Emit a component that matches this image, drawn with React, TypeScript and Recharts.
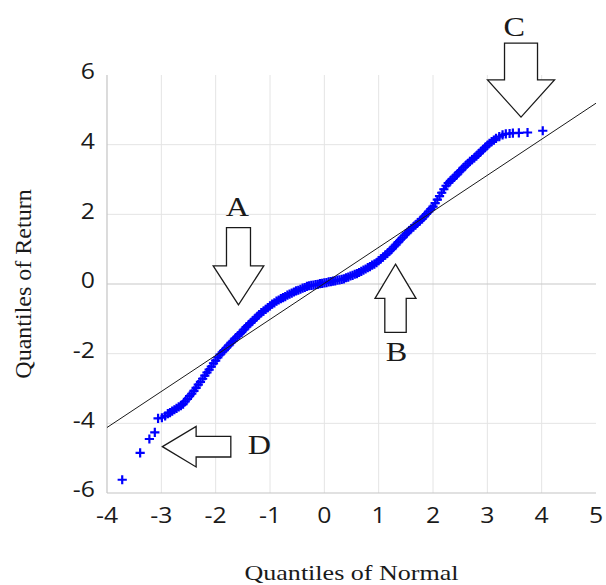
import React from 'react';
import { ScatterChart, Scatter, XAxis, YAxis, CartesianGrid, ReferenceLine, ReferenceDot } from 'recharts';

// Quantiles of Normal (x) and Quantiles of Return (y)
const normalQuantiles = [
  -3.72, -3.39, -3.22, -3.12, -3.06, -2.99, -2.93, -2.88, -2.84, -2.80,
  -2.76, -2.72, -2.68, -2.64, -2.60, -2.56, -2.52, -2.48, -2.44, -2.40,
  -2.36, -2.32, -2.28, -2.24, -2.20, -2.16, -2.12, -2.08, -2.04, -2.00,
  -1.96, -1.92, -1.88, -1.84, -1.80, -1.76, -1.72, -1.68, -1.64, -1.60,
  -1.56, -1.52, -1.48, -1.44, -1.40, -1.36, -1.32, -1.28, -1.24, -1.20,
  -1.16, -1.12, -1.08, -1.04, -1.00, -0.96, -0.92, -0.88, -0.84, -0.80,
  -0.76, -0.72, -0.68, -0.64, -0.60, -0.56, -0.52, -0.48, -0.44, -0.40,
  -0.36, -0.32, -0.28, -0.24, -0.20, -0.16, -0.12, -0.08, -0.04, 0.00,
  0.04, 0.08, 0.12, 0.16, 0.20, 0.24, 0.28, 0.32, 0.36, 0.40,
  0.44, 0.48, 0.52, 0.56, 0.60, 0.64, 0.68, 0.72, 0.76, 0.80,
  0.84, 0.88, 0.92, 0.96, 1.00, 1.04, 1.08, 1.12, 1.16, 1.20,
  1.24, 1.28, 1.32, 1.36, 1.40, 1.44, 1.48, 1.52, 1.56, 1.60,
  1.64, 1.68, 1.72, 1.76, 1.80, 1.84, 1.88, 1.92, 1.96, 2.00,
  2.04, 2.08, 2.12, 2.16, 2.20, 2.24, 2.28, 2.32, 2.36, 2.40,
  2.44, 2.48, 2.52, 2.56, 2.60, 2.64, 2.68, 2.72, 2.76, 2.80,
  2.84, 2.88, 2.92, 2.96, 3.00, 3.04, 3.08, 3.12, 3.16, 3.22,
  3.28, 3.34, 3.41, 3.47, 3.58, 3.74, 4.02,
];

const returnQuantiles = [
  -5.62, -4.85, -4.45, -4.26, -3.86, -3.84, -3.79, -3.72, -3.69, -3.65,
  -3.61, -3.57, -3.53, -3.49, -3.45, -3.37, -3.30, -3.22, -3.15, -3.07,
  -2.98, -2.89, -2.81, -2.72, -2.63, -2.54, -2.46, -2.37, -2.28, -2.20,
  -2.11, -2.03, -1.96, -1.90, -1.83, -1.76, -1.69, -1.63, -1.56, -1.50,
  -1.44, -1.38, -1.31, -1.24, -1.18, -1.12, -1.06, -1.00, -0.94, -0.88,
  -0.82, -0.78, -0.73, -0.68, -0.63, -0.58, -0.54, -0.49, -0.46, -0.42,
  -0.39, -0.36, -0.32, -0.29, -0.26, -0.23, -0.20, -0.18, -0.15, -0.12,
  -0.10, -0.07, -0.05, -0.04, -0.03, -0.02, -0.01, 0.01, 0.02, 0.03,
  0.04, 0.06, 0.07, 0.08, 0.09, 0.11, 0.12, 0.13, 0.15, 0.18,
  0.20, 0.23, 0.25, 0.28, 0.30, 0.33, 0.36, 0.40, 0.43, 0.47,
  0.50, 0.54, 0.57, 0.61, 0.67, 0.72, 0.77, 0.83, 0.88, 0.94,
  1.00, 1.07, 1.13, 1.20, 1.27, 1.33, 1.40, 1.46, 1.53, 1.59,
  1.64, 1.70, 1.76, 1.81, 1.87, 1.94, 2.01, 2.08, 2.15, 2.22,
  2.32, 2.42, 2.52, 2.62, 2.72, 2.82, 2.90, 2.96, 3.02, 3.08,
  3.14, 3.21, 3.27, 3.34, 3.40, 3.46, 3.52, 3.57, 3.62, 3.68,
  3.74, 3.80, 3.86, 3.92, 3.98, 4.04, 4.09, 4.13, 4.18, 4.23,
  4.28, 4.31, 4.32, 4.33, 4.34, 4.35, 4.40,
];

// Reference (fitted) line end points
const fitX = [-4, 5];
const fitY = [-4.12, 5.19];

// Axis ticks
const xTicks = [-4, -3, -2, -1, 0, 1, 2, 3, 4, 5];
const yTicks = [-6, -4, -2, 0, 2, 4, 6];
const xGridValues = [-3, -2, -1, 0, 1, 2, 3, 4];
const yGridValues = [-4, -2, 2, 4];

// Annotation arrows: label, tip position (data units), direction
const annotationLabels = ['A', 'B', 'C', 'D'];
const annotationX = [-1.58, 1.31, 3.62, -2.98];
const annotationY = [-0.6, 0.57, 4.79, -4.67];
const annotationDir = ['down', 'up', 'down', 'left'];

const xTitle = 'Quantiles of Normal';
const yTitle = 'Quantiles of Return';

// Arrow geometry in pixels (style, not data)
const arrowGeometry: Record<string, any> = {
  A: { headLen: 39, headHalf: 25.3, shaftHalf: 12, shaftLen: 38.3, labelDx: -1, labelDy: -98.3 },
  B: { headLen: 34.3, headHalf: 20.5, shaftHalf: 10.7, shaftLen: 34, labelDx: 1, labelDy: 87.7 },
  C: { headLen: 37.3, headHalf: 33.5, shaftHalf: 16.5, shaftLen: 36.7, labelDx: -6.7, labelDy: -90.6 },
  D: { headLen: 33.7, headHalf: 20.3, shaftHalf: 10.35, shaftLen: 34.7, labelDx: 97, labelDy: -1.7 },
};

const points = normalQuantiles.map((x, i) => ({ x, y: returnQuantiles[i] }));
const fitData = fitX.map((x, i) => ({ x, y: fitY[i] }));
const annotations = annotationLabels.map((label, i) => ({
  label,
  x: annotationX[i],
  y: annotationY[i],
  dir: annotationDir[i],
}));

const TICK_FONT = '"Open Sans", "Noto Sans", sans-serif';
const SERIF = '"Liberation Serif", "DejaVu Serif", serif';

const PlusMarker = (props: any) => {
  const { cx, cy } = props;
  if (cx == null || cy == null) return <g />;
  const h = 4.6;
  return (
    <path
      d={`M${cx - h},${cy}H${cx + h}M${cx},${cy - h}V${cy + h}`}
      stroke="#0000ff"
      strokeWidth={2.2}
      fill="none"
    />
  );
};

const XTick = (props: any) => {
  const { x, y, payload } = props;
  return (
    <g transform={`translate(${x},${y})`}>
      <text transform="scale(1.18,1)" textAnchor="middle" dy="0.71em" fontFamily={TICK_FONT} fontSize={21} fill="#1a1a1a">
        {payload.value}
      </text>
    </g>
  );
};

const YTick = (props: any) => {
  const { x, y, payload } = props;
  return (
    <g transform={`translate(${x},${y - 3})`}>
      <text transform="scale(1.18,1)" textAnchor="end" dy="0.355em" fontFamily={TICK_FONT} fontSize={21} fill="#1a1a1a">
        {payload.value}
      </text>
    </g>
  );
};

const XTitle = (props: any) => {
  const vb = props.viewBox || { x: 107, y: 493, width: 489, height: 92 };
  const cx = vb.x + vb.width / 2;
  const by = vb.y + vb.height - 5;
  return (
    <text x={cx} y={by} textAnchor="middle" fontFamily={SERIF} fontSize={22} fill="#1a1a1a" textLength={214} lengthAdjust="spacingAndGlyphs">
      {xTitle}
    </text>
  );
};

const YTitle = (props: any) => {
  const vb = props.viewBox || { x: 0, y: 75, width: 107, height: 418 };
  const x = vb.x + 31;
  const y = vb.y + vb.height / 2;
  return (
    <text x={x} y={y} transform={`rotate(-90,${x},${y})`} textAnchor="middle" fontFamily={SERIF} fontSize={24} fill="#1a1a1a">
      {yTitle}
    </text>
  );
};

const ArrowMark = (props: any) => {
  const { cx, cy, ann } = props;
  if (cx == null || cy == null) return <g />;
  const g = arrowGeometry[ann.label];
  const { headLen: hl, headHalf: hh, shaftHalf: sh, shaftLen: sl } = g;
  const pts = [
    [0, 0],
    [-hh, -hl],
    [-sh, -hl],
    [-sh, -hl - sl],
    [sh, -hl - sl],
    [sh, -hl],
    [hh, -hl],
  ]
    .map((p) => p.join(','))
    .join(' ');
  const rot = ann.dir === 'down' ? 0 : ann.dir === 'up' ? 180 : 90;
  const lx = cx + g.labelDx;
  const ly = cy + g.labelDy;
  return (
    <g>
      <polygon
        points={pts}
        transform={`translate(${cx},${cy}) rotate(${rot})`}
        fill="#ffffff"
        stroke="#1a1a1a"
        strokeWidth={1.3}
        strokeLinejoin="miter"
      />
      <text
        transform={`translate(${lx},${ly}) scale(1.15,1)`}
        textAnchor="middle"
        dy="0.33em"
        fontFamily={SERIF}
        fontSize={28}
        fill="#1a1a1a"
      >
        {ann.label}
      </text>
    </g>
  );
};

export default function App() {
  return (
    <div style={{ position: 'absolute', left: 0, top: 0, width: 606, height: 585, overflow: 'hidden', background: '#fff' }}>
      <ScatterChart width={606} height={585} margin={{ top: 75, right: 10, bottom: 0, left: 0 }}>
        <CartesianGrid
          stroke="#e4e4e4"
          strokeWidth={1}
          verticalValues={xGridValues}
          horizontalValues={yGridValues}
        />
        <XAxis
          type="number"
          dataKey="x"
          domain={[-4, 5]}
          ticks={xTicks}
          interval={0}
          allowDataOverflow
          height={92}
          tickLine={false}
          tickSize={0}
          tickMargin={15}
          axisLine={{ stroke: '#c4c4c4', strokeWidth: 1.2 }}
          tick={<XTick />}
          label={(p: any) => <XTitle {...p} />}
        />
        <YAxis
          type="number"
          dataKey="y"
          domain={[-6, 6]}
          ticks={yTicks}
          interval={0}
          allowDataOverflow
          width={107}
          tickLine={false}
          tickSize={0}
          tickMargin={12}
          axisLine={{ stroke: '#c4c4c4', strokeWidth: 1.2 }}
          tick={<YTick />}
          label={(p: any) => <YTitle {...p} />}
        />
        <ReferenceLine y={0} stroke="#c8c8c8" strokeWidth={1.2} />
        <Scatter data={points} shape={<PlusMarker />} isAnimationActive={false} />
        <Scatter
          data={fitData}
          line={{ stroke: '#1a1a1a', strokeWidth: 1 }}
          shape={() => <g />}
          isAnimationActive={false}
        />
        {annotations.map((a) => (
          <ReferenceDot
            key={a.label}
            x={a.x}
            y={a.y}
            r={1}
            ifOverflow="visible"
            shape={(p: any) => <ArrowMark {...p} ann={a} />}
          />
        ))}
      </ScatterChart>
    </div>
  );
}
